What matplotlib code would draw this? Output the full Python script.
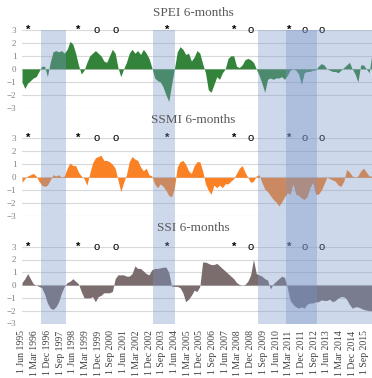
import numpy as np
import matplotlib.pyplot as plt

# months counted from 1 Jun 1995, one value every 2 months
months = np.arange(0, 250, 2)

spei = [-1.0, -1.5, -1.1, -0.9, -0.7, -0.6, -0.2, 0.2, 0.2, -0.6,
        0.5, 1.3, 1.4, 1.3, 1.4, 1.2, 1.5, 2.1, 1.9, 1.2,
        0.3, -0.4, -0.1, 0.5, 1.0, 1.2, 1.4, 1.2, 1.0, 0.6,
        0.5, 1.0, 1.5, 1.2, 0.1, -0.6, 0.0, 0.5, 1.2, 1.5,
        1.2, 1.4, 1.1, 1.5, 1.2, 0.8, 0.1, -0.7, -0.9, -1.0,
        -1.4, -2.0, -2.5, -1.2, 0.0, 1.3, 1.7, 1.5, 1.1, 1.2,
        0.6, 0.9, 1.4, 1.2, 0.4, -0.3, -1.6, -1.8, -1.2, -0.6,
        -0.8, -0.3, 0.0, 0.8, 1.0, 1.0, 0.2, 0.1, 0.3, 0.7,
        0.8, 0.7, 0.5, 0.0, -0.5, -1.1, -1.8, -0.8, -0.7, -0.8,
        -0.7, -0.7, -0.6, -0.8, -0.5, -0.1, 0.0, -0.1, -0.4, -1.2,
        -0.3, -0.2, -0.2, -0.1, -0.1, 0.2, 0.4, 0.3, 0.0, -0.1,
        -0.2, -0.2, -0.3, -0.1, 0.1, 0.3, 0.5, 0.0, -0.4, -1.0,
        0.3, 0.3, 0.0, -0.3, 1.2]

ssmi = [-0.4, -0.1, 0.1, 0.2, 0.3, 0.1, -0.3, -0.6, -0.7, -0.6,
        -0.2, 0.2, 0.1, 0.2, 0.0, 0.1, 0.7, 1.1, 0.9, 0.9,
        0.4, 0.1, -0.1, -0.6, 0.3, 1.1, 1.5, 1.6, 1.7, 1.3,
        1.3, 1.2, 1.0, 0.7, -0.2, -1.1, -0.4, 0.2, 1.2, 1.6,
        1.4, 1.3, 0.8, 0.5, 0.7, 0.2, 0.1, -0.5, -0.8, -0.5,
        -0.7, -1.0, -1.4, -1.5, -0.8, 0.8, 1.2, 1.3, 1.0, 0.5,
        0.3, 0.9, 1.2, 1.2, 0.5, -0.5, -1.0, -1.3, -0.6, -0.8,
        -0.6, -0.8, -0.5, -0.5, -0.3, -0.1, 0.3, 0.7, 0.9, 0.4,
        0.0, -0.4, -0.3, 0.1, 0.2, -0.4, -0.9, -1.1, -1.4, -1.7,
        -1.9, -2.2, -1.9, -1.5, -1.2, -1.3, -0.5, -1.3, -1.4, -1.6,
        -1.7, -1.5, -0.8, -0.4, -1.3, -1.3, -1.0, -0.5, 0.0, -0.1,
        -0.2, -0.3, -0.6, -0.7, -0.3, 0.6, 0.4, 0.1, 0.0, 0.1,
        0.5, 0.7, 0.4, 0.1, 0.1]

ssi = [0.2, 0.5, 0.9, 0.5, 0.1, 0.0, -0.1, -0.2, -0.7, -1.4,
       -1.8, -1.9, -1.7, -1.3, -0.6, -0.1, 0.2, 0.3, 0.5, 0.3,
       0.1, -0.5, -1.0, -1.0, -1.0, -0.9, -1.3, -0.9, -0.8, -0.6,
       -0.6, -0.6, -0.5, 0.5, 0.8, 0.8, 0.8, 0.7, 0.7, 0.9,
       1.5, 1.3, 1.3, 1.1, 0.9, 0.8, 1.2, 1.3, 1.3, 1.35,
       1.4, 1.4, 1.0, -0.1, -0.1, -0.1, -0.2, -0.6, -1.3, -1.1,
       -0.8, -0.4, -0.5, -0.1, 1.8, 1.8, 1.7, 1.6, 1.6, 1.7,
       1.5, 1.3, 1.1, 0.9, 0.7, 0.5, 0.2, 0.05, 0.0, 0.05,
       0.3, 0.8, 2.0, 0.9, 0.8, 0.7, 0.5, 0.4, -0.3, 0.1,
       0.3, 0.5, 0.7, 0.6, -0.2, -1.2, -1.5, -1.7, -1.8, -1.7,
       -1.8, -1.5, -1.4, -1.4, -1.3, -1.3, -1.15, -1.2, -1.2, -1.1,
       -1.3, -1.2, -1.0, -0.9, -0.9, -1.1, -1.5, -1.8, -1.7, -1.7,
       -1.8, -1.9, -1.95, -2.0, -2.0]

titles = ['SPEI 6-months', 'SSMI 6-months', 'SSI 6-months']
colors = ['#33843a', '#fa8224', '#7b6c6d']

# shaded drought periods (start, end month)
spans = [(13.3, 31.4), (92.9, 108.3), (166.9, 248), (187.2, 209)]

mark_month = [4.5, 40, 53, 66, 103, 150, 162, 189, 200, 212]
mark_sym = ['*', '*', 'o', 'o', '*', '*', 'o', '*', 'o', 'o']

tick_labels = ['1 Jun 1995', '1 Mar 1996', '1 Dec 1996', '1 Sep 1997', '1 Jun 1998',
               '1 Mar 1999', '1 Dec 1999', '1 Sep 2000', '1 Jun 2001', '1 Mar 2002',
               '1 Dec 2002', '1 Sep 2003', '1 Jun 2004', '1 Mar 2005', '1 Dec 2005',
               '1 Sep 2006', '1 Jun 2007', '1 Mar 2008', '1 Dec 2008', '1 Sep 2009',
               '1 Jun 2010', '1 Mar 2011', '1 Dec 2011', '1 Sep 2012', '1 Jun 2013',
               '1 Mar 2014', '1 Dec 2014', '1 Sep 2015']
tick_pos = np.arange(0, 9 * len(tick_labels), 9)

W, H = 372, 378
fig = plt.figure(figsize=(W / 100, H / 100), dpi=100)

left = 22 / W
right = 1.0
tops = [29.7, 138.3, 246.7]
bottoms = [108.0, 216.3, 323.5]
title_y = [12.7, 120.0, 228.0]

gray = '#808080'
for i, series in enumerate([spei, ssmi, ssi]):
    ax = fig.add_axes([left, 1 - bottoms[i] / H, right - left, (bottoms[i] - tops[i]) / H])
    ax.set_xlim(0, 248)
    ax.set_ylim(-3, 3)
    for v in range(-3, 4):
        ax.axhline(v, color='#d9d9d9', lw=0.8, zorder=0)
    ax.fill_between(months, 0, series, color=colors[i], lw=0, zorder=2)
    for sp in ax.spines.values():
        sp.set_visible(False)
    ax.set_yticks(range(-3, 4))
    ax.tick_params(axis='y', length=0, pad=4, labelsize=6.5, labelcolor=gray)
    for lab in ax.get_yticklabels():
        lab.set_family('Liberation Serif')
    ax.set_xticks(tick_pos)
    ax.tick_params(axis='x', length=0)
    if i == 2:
        ax.set_xticklabels(tick_labels, rotation=90, fontsize=7,
                           family='Liberation Serif', color='#404040')
        ax.tick_params(axis='x', pad=5)
    else:
        ax.set_xticklabels([])
    for m, s in zip(mark_month, mark_sym):
        ax.text(m, 3, s, ha='center', va='center', fontsize=8,
                fontweight='bold' if s == '*' else 'normal',
                family='Liberation Sans', color='black', clip_on=False, zorder=5)
    fig.text(193 / W, 1 - title_y[i] / H, titles[i], ha='center', va='center',
             fontsize=9.5, family='Liberation Serif', color='#595959')

# overlay for the shaded periods, spanning all three panels
ov = fig.add_axes([left, 1 - bottoms[2] / H, right - left, (bottoms[2] - tops[0]) / H])
ov.set_xlim(0, 248)
ov.patch.set_visible(False)
ov.axis('off')
for a, b in spans:
    ov.axvspan(a, b, color='#7896c8', alpha=0.37, lw=0)

fig.savefig('out.png', dpi=100)
